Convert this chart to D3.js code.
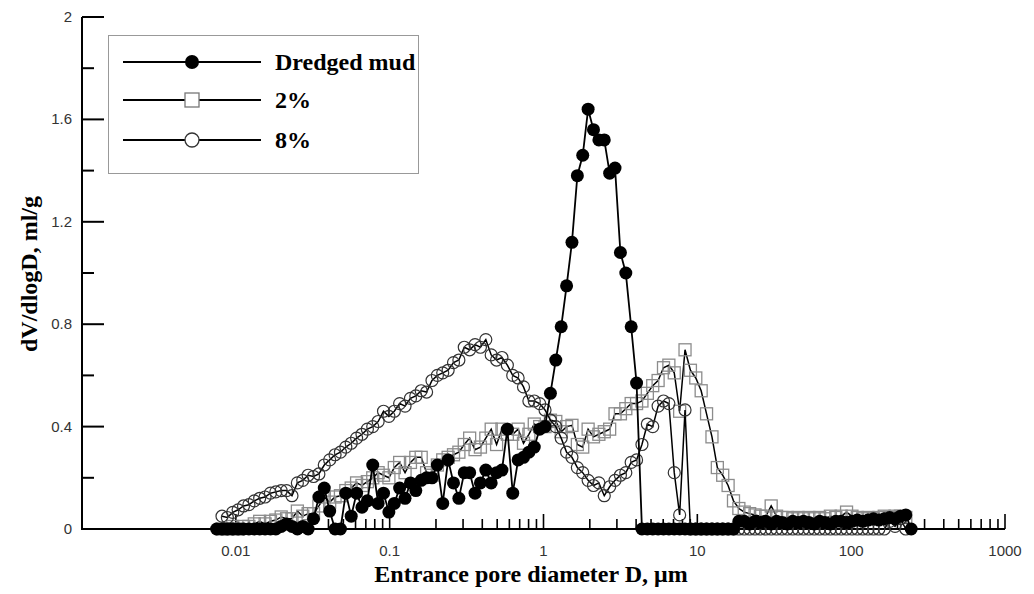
<!DOCTYPE html>
<meta charset="utf-8" />
<script src="https://d3js.org/d3.v7.min.js"></script>
<style>
  body { margin: 0; background: #fff; }
  text { font-family: "Liberation Sans", Arial, sans-serif; }
  .title { font-family: "Liberation Serif", "Times New Roman", serif; font-weight: bold; }
</style>
<body>
<div id="chart"></div>
<script>
// pore diameters (um), shared by all three samples
var diam = [0.0075,0.00813,0.00881,0.00955,0.01035,0.01122,0.01216,0.01318,0.01429,0.01549,
  0.01679,0.0182,0.01972,0.02138,0.02317,0.02512,0.02723,0.02951,0.03199,0.03467,
  0.03758,0.04074,0.04416,0.04786,0.05188,0.05623,0.06095,0.06607,0.07161,0.07762,
  0.08414,0.0912,0.09886,0.1072,0.1161,0.1259,0.1365,0.1479,0.1603,0.1738,
  0.1884,0.2042,0.2213,0.2399,0.26,0.2818,0.3055,0.3311,0.3589,0.389,
  0.4217,0.4571,0.4955,0.537,0.5821,0.631,0.6839,0.7413,0.8035,0.871,
  0.9441,1.023,1.109,1.202,1.303,1.413,1.531,1.66,1.799,1.95,
  2.113,2.291,2.483,2.692,2.917,3.162,3.428,3.715,4.027,4.365,
  4.732,5.129,5.559,6.026,6.531,7.079,7.674,8.318,9.016,9.772,
  10.59,11.48,12.45,13.49,14.62,15.85,17.18,18.62,20.18,21.88,
  23.71,25.7,27.86,30.2,32.73,35.48,38.46,41.69,45.19,48.98,
  53.09,57.54,62.37,67.61,73.28,79.43,86.1,93.33,101.2,109.6,
  118.9,128.8,139.6,151.4,164.1,177.8,192.8,208.9,226.5,245.5];

// dV/dlogD (ml/g), null = no reading at that diameter
var mud = [0,0,0,0,0,0,0,0,0,0,
  0,0,0.01,0.02,0.01,0,0.01,0,0.04,0.125,
  0.16,0.07,0,0,0.14,0.05,0.14,0.085,0.11,0.25,
  0.10,0.14,0.066,0.10,0.16,0.12,0.18,0.15,0.19,0.20,
  0.20,0.25,0.10,0.27,0.18,0.12,0.22,0.22,0.14,0.18,
  0.23,0.18,0.22,0.23,0.39,0.14,0.27,0.28,0.30,0.32,
  0.39,0.40,0.53,0.66,0.79,0.95,1.12,1.38,1.46,1.64,
  1.56,1.52,1.52,1.39,1.41,1.08,1.00,0.79,0.57,0,
  0,0,0,0,0,0,0,0,0,0,
  0,0,0,0,0,0,0,0.03,0.03,0.02,
  0.03,0.025,0.03,0.02,0.03,0.025,0.02,0.03,0.025,0.03,
  0.025,0.02,0.03,0.025,0.02,0.03,0.03,0.025,0.03,0.035,
  0.03,0.035,0.04,0.035,0.04,0.045,0.04,0.05,0.055,0];

var pct2 = [null,0,0,0.01,0,0.01,0.01,0.02,0.03,0.02,
  0.03,0.035,0.047,0.04,0.04,0.07,0.05,0.06,0.06,0.09,
  0.125,0.105,0.125,0.13,0.15,0.16,0.18,0.17,0.185,0.20,
  0.22,0.21,0.20,0.24,0.26,0.22,0.26,0.28,0.28,0.22,
  0.21,0.25,0.27,0.28,0.29,0.30,0.33,0.355,0.31,0.32,
  0.355,0.39,0.33,0.39,0.37,0.37,0.39,0.335,0.37,0.41,
  0.40,0.40,0.425,0.42,0.38,0.40,0.405,0.33,0.32,0.39,
  0.36,0.37,0.38,0.39,0.45,0.45,0.47,0.49,0.49,0.50,
  0.53,0.56,0.58,0.63,0.64,0.61,0.46,0.70,0.62,0.59,
  0.54,0.45,0.36,0.24,0.21,0.17,0.11,0.08,0.066,0.06,
  0.055,0.05,0.05,0.09,0.05,0.045,0.045,0.04,0.045,0.04,
  0.045,0.04,0.045,0.04,0.05,0.045,0.05,0.066,0.05,0.045,
  0.04,0.045,0.04,0.045,0.05,0.045,0.05,0.05,0.045,null];

var pct8 = [null,0.05,0.045,0.065,0.075,0.09,0.095,0.11,0.12,0.125,
  0.14,0.145,0.15,0.15,0.13,0.18,0.19,0.21,0.205,0.215,
  0.25,0.27,0.29,0.30,0.32,0.335,0.355,0.37,0.39,0.40,
  0.42,0.46,0.44,0.46,0.49,0.48,0.51,0.52,0.54,0.535,
  0.58,0.60,0.61,0.62,0.65,0.66,0.71,0.70,0.72,0.71,
  0.74,0.68,0.66,0.67,0.64,0.60,0.59,0.555,0.50,0.50,
  0.49,0.465,0.425,0.40,0.355,0.30,0.28,0.24,0.22,0.19,
  0.17,0.18,0.13,0.165,0.19,0.21,0.22,0.26,0.27,0.33,
  0.41,0.40,0.48,0.50,0.49,0.22,0.055,0.465,0,0,
  0,0,0,0,0,0,0,0,0,0,
  0,0,0,0,0,0,0,0,0,0,
  0,0,0,0,0,0,0,0,0,0,
  0,0,0,0,0,0.03,0.01,0.04,0,null];

var seriesNames = ["Dredged mud", "2%", "8%"];
var xTickLabels = ["0.01", "0.1", "1", "10", "100", "1000"];
var yMajor = [0, 0.4, 0.8, 1.2, 1.6, 2];
var yMinor = [0.2, 0.6, 1.0, 1.4, 1.8];

var width = 1034, height = 594;
var svg = d3.select("#chart").append("svg")
  .attr("width", width).attr("height", height);

var x = d3.scaleLog().domain([0.001, 1000]).range([82, 1005]);
var y = d3.scaleLinear().domain([0, 2]).range([529, 17]);

// axes lines
svg.append("line").attr("x1", 82).attr("x2", 1005).attr("y1", y(0)).attr("y2", y(0))
  .attr("stroke", "#000").attr("stroke-width", 2);
svg.append("line").attr("x1", 82).attr("x2", 82).attr("y1", y(0) + 1).attr("y2", y(2))
  .attr("stroke", "#000").attr("stroke-width", 2);

// y ticks (pointing inward)
svg.selectAll(".ymaj").data(yMajor).enter().append("line")
  .attr("x1", 82).attr("x2", 104).attr("y1", d => y(d)).attr("y2", d => y(d))
  .attr("stroke", "#000").attr("stroke-width", 2);
svg.selectAll(".ymin").data(yMinor).enter().append("line")
  .attr("x1", 82).attr("x2", 94).attr("y1", d => y(d)).attr("y2", d => y(d))
  .attr("stroke", "#000").attr("stroke-width", 2);
svg.selectAll(".ylab").data(yMajor).enter().append("text")
  .attr("x", 72).attr("y", d => y(d) + 5)
  .attr("text-anchor", "end").attr("font-size", 15).attr("fill", "#333")
  .text(d => d);

// x ticks, from 0.01 up, pointing inward
var xt = x.ticks().filter(d => d >= 0.0099);
svg.selectAll(".xt").data(xt).enter().append("line")
  .attr("x1", d => x(d)).attr("x2", d => x(d))
  .attr("y1", y(0))
  .attr("y2", function (d) {
    var major = Math.abs(Math.log10(d) - Math.round(Math.log10(d))) < 1e-6;
    return y(0) - (major ? 15 : 10);
  })
  .attr("stroke", "#000").attr("stroke-width", 1.6);
svg.selectAll(".xlab").data(xTickLabels).enter().append("text")
  .attr("x", d => x(+d)).attr("y", 556)
  .attr("text-anchor", "middle").attr("font-size", 15).attr("fill", "#333")
  .text(d => d);

// axis titles
svg.append("text").attr("class", "title")
  .attr("x", 531).attr("y", 582).attr("text-anchor", "middle")
  .attr("font-size", 24).text("Entrance pore diameter D, \u03bcm");
svg.append("text").attr("class", "title")
  .attr("transform", "translate(37,274) rotate(-90)").attr("text-anchor", "middle")
  .attr("font-size", 24).text("dV/dlogD, ml/g");

function pts(vals) {
  var out = [];
  vals.forEach(function (v, i) { if (v !== null) out.push({ d: diam[i], v: v }); });
  return out;
}

var line = d3.line().x(p => x(p.d)).y(p => y(p.v));

// 2% : open squares
var p2 = pts(pct2);
svg.append("path").datum(p2).attr("d", line)
  .attr("fill", "none").attr("stroke", "#000").attr("stroke-width", 1.5);
svg.append("g").selectAll("rect").data(p2).enter().append("rect")
  .attr("x", p => x(p.d) - 6).attr("y", p => y(p.v) - 6)
  .attr("width", 12).attr("height", 12)
  .attr("fill", "none").attr("stroke", "#8c8c8c").attr("stroke-width", 1.3);

// 8% : open circles
var p8 = pts(pct8);
svg.append("path").datum(p8).attr("d", line)
  .attr("fill", "none").attr("stroke", "#000").attr("stroke-width", 1.5);
svg.append("g").selectAll("circle").data(p8).enter().append("circle")
  .attr("cx", p => x(p.d)).attr("cy", p => y(p.v)).attr("r", 6)
  .attr("fill", "none").attr("stroke", "#333").attr("stroke-width", 1.2);

// dredged mud : filled circles
var pm = pts(mud);
svg.append("path").datum(pm).attr("d", line)
  .attr("fill", "none").attr("stroke", "#000").attr("stroke-width", 1.8);
svg.append("g").selectAll("circle").data(pm).enter().append("circle")
  .attr("cx", p => x(p.d)).attr("cy", p => y(p.v)).attr("r", 6.5)
  .attr("fill", "#000");

// legend
var lg = svg.append("g");
lg.append("rect").attr("x", 108.5).attr("y", 35.5).attr("width", 310).attr("height", 138)
  .attr("fill", "#fff").attr("stroke", "#999").attr("stroke-width", 1);
var rowsY = [62, 100, 140];
seriesNames.forEach(function (name, i) {
  var ly = rowsY[i];
  lg.append("line").attr("x1", 123).attr("x2", 261).attr("y1", ly).attr("y2", ly)
    .attr("stroke", "#000").attr("stroke-width", 1.8);
  if (i === 0) {
    lg.append("circle").attr("cx", 192).attr("cy", ly).attr("r", 7).attr("fill", "#000");
  } else if (i === 1) {
    lg.append("rect").attr("x", 185).attr("y", ly - 7).attr("width", 14).attr("height", 14)
      .attr("fill", "#fff").attr("stroke", "#777").attr("stroke-width", 1.3);
  } else {
    lg.append("circle").attr("cx", 192).attr("cy", ly).attr("r", 7)
      .attr("fill", "#fff").attr("stroke", "#333").attr("stroke-width", 1.3);
  }
  lg.append("text").attr("class", "title").attr("x", 275).attr("y", ly + 8)
    .attr("font-size", 24).text(name);
});
</script>
</body>
